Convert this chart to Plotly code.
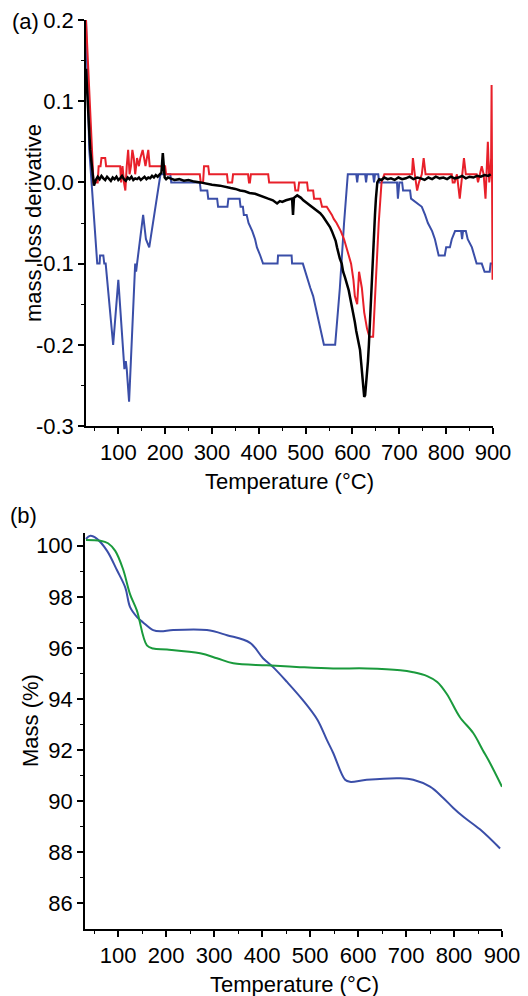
import plotly.graph_objects as go

# ---- panel (a): mass loss derivative ----
black_t = [31, 35, 40, 45, 48, 52, 56, 60, 64, 68, 72, 76, 80, 84, 88, 92, 96, 100,
           104, 108, 112, 116, 120, 124, 128, 132, 136, 140, 144, 148, 152, 156, 160,
           164, 168, 172, 176, 180, 184, 188, 192, 195, 197, 199, 202, 206, 211, 220,
           230, 240, 250, 262, 275, 288, 300, 317, 330, 340, 350, 360, 370, 380, 392,
           403, 412, 420, 430, 439, 445, 450, 458, 465, 471, 473, 475, 482, 490, 495,
           502, 509, 515, 520, 526, 531, 537, 542, 547, 552, 556, 560, 564, 567, 570,
           573, 577, 580, 584, 588, 592, 595, 598, 601, 605, 608, 612, 616, 619, 622,
           625, 627, 629, 631, 633, 635, 638, 640, 642, 644, 646, 648, 650, 653, 657,
           662, 668, 675, 682, 690, 698, 706, 714, 722, 730, 738, 746, 754, 762, 770,
           778, 786, 794, 802, 810, 818, 826, 834, 842, 850, 858, 866, 874, 882, 890,
           895]
black_v = [0.14, 0.09, 0.04, 0.012, -0.004, 0.003, 0.007, 0.004, 0.008, 0.005, 0.003,
           0.007, 0.005, 0.002, 0.006, 0.004, 0.007, 0.003, 0.005, 0.008, 0.004, 0.002,
           0.006, 0.004, 0.007, 0.003, 0.005, 0.004, 0.006, 0.003, 0.005, 0.007, 0.004,
           0.006, 0.005, 0.008, 0.006, 0.009, 0.007, 0.010, 0.012, 0.036, 0.016, 0.006,
           0.004, 0.006, 0.005, 0.003, 0.004, 0.002, 0.003, 0.001, 0.0, -0.002, -0.003,
           -0.004, -0.006, -0.007, -0.008, -0.010, -0.011, -0.013, -0.014, -0.016,
           -0.018, -0.020, -0.022, -0.026, -0.023, -0.024, -0.022, -0.021, -0.020,
           -0.040, -0.019, -0.016, -0.019, -0.022, -0.025, -0.028, -0.031, -0.033,
           -0.036, -0.038, -0.042, -0.046, -0.050, -0.055, -0.060, -0.066, -0.072,
           -0.080, -0.088, -0.094, -0.100, -0.110, -0.117, -0.124, -0.133, -0.142,
           -0.150, -0.161, -0.172, -0.183, -0.195, -0.206, -0.225, -0.245, -0.264,
           -0.262, -0.250, -0.235, -0.220, -0.200, -0.160, -0.130, -0.100, -0.080,
           -0.060, -0.040, -0.020, 0.0, 0.004, 0.003, 0.006, 0.004, 0.005, 0.003,
           0.006, 0.004, 0.005, 0.007, 0.004, 0.006, 0.005, 0.003, 0.006, 0.004, 0.007,
           0.005, 0.006, 0.004, 0.007, 0.005, 0.006, 0.008, 0.005, 0.007, 0.006, 0.008,
           0.007, 0.009, 0.008, 0.010, 0.009]

red_t = [31, 40, 47, 56, 58, 62, 64, 72, 74, 94, 96, 104, 106, 109, 112, 115, 118,
         121, 124, 127, 130, 133, 136, 140, 144, 147, 152, 158, 164, 167, 200, 202,
         274, 276, 281, 283, 286, 292, 294, 332, 334, 343, 345, 377, 379, 381, 383,
         420, 422, 476, 478, 484, 486, 503, 505, 516, 518, 522, 531, 535, 545, 556,
         560, 566, 575, 582, 590, 597, 602, 605, 610, 614, 620, 625, 631, 636, 644,
         650, 656, 662, 668, 727, 729, 733, 738, 742, 748, 752, 756, 812, 814, 818,
         823, 829, 834, 838, 842, 865, 868, 872, 876, 880, 884, 889, 892, 894, 896,
         897, 898, 898.5, 899]
red_v = [0.2, 0.09, 0.0, 0.0, 0.02, 0.02, 0.03, 0.03, 0.02, 0.02, 0.02, 0.02, 0.0,
         0.02, 0.0, -0.01, 0.02, 0.04, 0.01, 0.02, 0.04, 0.03, 0.01, 0.03, 0.02, 0.03,
         0.04, 0.02, 0.04, 0.02, 0.02, 0.01, 0.01, 0.0, 0.0, 0.02, 0.02, 0.02, 0.01,
         0.01, 0.0, 0.0, 0.01, 0.01, 0.0, 0.0, 0.01, 0.01, 0.0, 0.0, -0.01, -0.01, 0.0,
         0.0, -0.01, -0.01, -0.02, -0.02, -0.02, -0.03, -0.03, -0.04, -0.045, -0.05,
         -0.06, -0.07, -0.085, -0.1, -0.12, -0.14, -0.15, -0.11, -0.13, -0.16, -0.18,
         -0.19, -0.19, -0.11, -0.05, 0.0, 0.01, 0.01, 0.03, 0.01, -0.01, 0.0, 0.01, 0.03,
         0.01, 0.01, 0.0, 0.0, 0.01, -0.02, 0.01, 0.03, 0.01, 0.01, 0.0, 0.01, 0.02,
         0.01, -0.02, 0.05, 0.0, 0.01, 0.03, 0.12, -0.05, 0.09, -0.12]

blue_t = [31, 38, 55, 60, 61, 68, 70, 73, 89, 100, 113, 116, 118, 123, 136, 138, 140,
          153, 159, 166, 190, 211, 213, 274, 276, 290, 292, 311, 313, 333, 335, 359,
          361, 366, 368, 374, 378, 386, 392, 396, 403, 409, 440, 441, 470, 471, 494,
          499, 505, 510, 516, 520, 524, 528, 531, 535, 539, 563, 566, 573, 582, 590,
          608, 610, 612, 627, 629, 631, 644, 646, 648, 655, 657, 695, 697, 700, 702,
          706, 708, 723, 725, 748, 755, 761, 770, 776, 784, 797, 800, 808, 812, 819,
          825, 832, 834, 836, 842, 846, 855, 865, 876, 882, 893, 895, 898]
blue_v = [0.2, 0.04, -0.1, -0.1, -0.09, -0.09, -0.1, -0.1, -0.2, -0.12, -0.23, -0.22,
          -0.23, -0.27, -0.1, -0.11, -0.1, -0.04, -0.07, -0.08, 0.01, 0.01, 0.0, 0.0,
          -0.01, -0.01, -0.02, -0.02, -0.03, -0.03, -0.02, -0.02, -0.03, -0.03, -0.04,
          -0.04, -0.05, -0.06, -0.07, -0.08, -0.09, -0.1, -0.1, -0.09, -0.09, -0.1,
          -0.1, -0.11, -0.12, -0.13, -0.14, -0.15, -0.16, -0.17, -0.18, -0.19, -0.2,
          -0.2, -0.18, -0.13, -0.05, 0.01, 0.01, 0.0, 0.01, 0.01, 0.0, 0.01, 0.01, 0.0,
          0.01, 0.01, 0.0, 0.0, -0.02, 0.0, 0.0, 0.0, -0.01, -0.01, -0.02, -0.03,
          -0.04, -0.05, -0.06, -0.07, -0.09, -0.09, -0.08, -0.08, -0.07, -0.06, -0.06,
          -0.06, -0.07, -0.06, -0.06, -0.07, -0.08, -0.1, -0.1, -0.11, -0.11, -0.1, -0.1]

# ---- panel (b): mass ----
blue_m_t = [33, 42, 56, 77, 98, 115, 125, 140, 152, 173, 188, 215, 285, 327, 375,
            402, 423, 452, 485, 515, 535, 548, 573, 583, 618, 688, 715, 750, 777, 798,
            819, 854, 896]
blue_m = [100.27, 100.39, 100.27, 99.8, 99.03, 98.36, 97.6, 97.2, 97.0, 96.7, 96.65,
          96.7, 96.7, 96.5, 96.2, 95.6, 95.25, 94.67, 93.96, 93.2, 92.4, 91.9, 90.84,
          90.76, 90.84, 90.9, 90.84, 90.57, 90.14, 89.75, 89.4, 88.9, 88.15]

green_m_t = [33, 63, 79, 94, 110, 125, 139, 160, 173, 202, 271, 306, 340, 410, 479,
             548, 619, 688, 715, 744, 765, 785, 812, 840, 860, 875, 900]
green_m = [100.23, 100.2, 100.1, 99.8, 99.1, 98.1, 97.47, 96.1, 95.98, 95.94, 95.79,
           95.6, 95.4, 95.32, 95.25, 95.2, 95.2, 95.13, 95.05, 94.9, 94.67, 94.2, 93.3,
           92.67, 92.0, 91.5, 90.57]

x_ticks = [100, 200, 300, 400, 500, 600, 700, 800, 900]
ya_ticks = [-0.3, -0.2, -0.1, 0.0, 0.1, 0.2]
ya_labels = ['-0.3', '-0.2', '-0.1', '0.0', '0.1', '0.2']
yb_ticks = [86, 88, 90, 92, 94, 96, 98, 100]

RED = '#e8202a'
BLUE = '#3a4ea8'
GREEN = '#1a9a3c'
FONT = 'Liberation Sans, Arial, sans-serif'
FS = 22

# page body has an 8px margin, so the figure is drawn 8px in from the corner
OFF = 8
W, H = 528 - OFF, 996 - OFF


def px(x):
    return (x - OFF) / W


def py(y):
    return 1 - (y - OFF) / H


fig = go.Figure()
fig.add_trace(go.Scatter(x=blue_t, y=blue_v, mode='lines', line=dict(color=BLUE, width=2),
                         xaxis='x', yaxis='y', showlegend=False))
fig.add_trace(go.Scatter(x=red_t, y=red_v, mode='lines', line=dict(color=RED, width=2),
                         xaxis='x', yaxis='y', showlegend=False))
fig.add_trace(go.Scatter(x=black_t, y=black_v, mode='lines', line=dict(color='black', width=2.5),
                         xaxis='x', yaxis='y', showlegend=False))
fig.add_trace(go.Scatter(x=blue_m_t, y=blue_m, mode='lines', line=dict(color=BLUE, width=2, shape='spline'),
                         xaxis='x2', yaxis='y2', showlegend=False))
fig.add_trace(go.Scatter(x=green_m_t, y=green_m, mode='lines', line=dict(color=GREEN, width=2, shape='spline'),
                         xaxis='x2', yaxis='y2', showlegend=False))


def axis(**kw):
    d = dict(showline=True, linecolor='black', linewidth=1.5, mirror=False,
             ticks='outside', ticklen=6, tickwidth=1.5, tickcolor='black',
             showgrid=False, zeroline=False, automargin=False,
             ticklabeloverflow='allow',
             tickfont=dict(family=FONT, size=FS, color='black'))
    d.update(kw)
    return d


minor_x = dict(ticks='outside', ticklen=3, tickwidth=1.2, tickcolor='black',
               tickvals=[50, 150, 250, 350, 450, 550, 650, 750, 850])


def label(text, x, y, angle=0):
    return dict(text=text, x=px(x), y=py(y), xref='paper', yref='paper',
                xanchor='center', yanchor='middle', textangle=angle,
                showarrow=False, font=dict(size=FS))


fig.update_layout(
    width=W, height=H,
    margin=dict(l=0, r=0, t=0, b=0),
    paper_bgcolor='white', plot_bgcolor='white',
    font=dict(family=FONT, size=FS, color='black'),
    xaxis=axis(domain=[px(86), px(493)], range=[31, 900], anchor='y',
               tickmode='array', tickvals=x_ticks, minor=minor_x),
    yaxis=axis(domain=[py(426), py(20)], range=[-0.3, 0.2], anchor='x',
               tickmode='array', tickvals=ya_ticks, ticktext=ya_labels,
               minor=dict(ticks='outside', ticklen=3, tickwidth=1.2, tickcolor='black',
                          tickvals=[-0.25, -0.15, -0.05, 0.05, 0.15])),
    xaxis2=axis(domain=[px(85), px(502)], range=[31, 900], anchor='y2',
                tickmode='array', tickvals=x_ticks, minor=minor_x),
    yaxis2=axis(domain=[py(929), py(533)], range=[85, 100.5], anchor='x2',
                tickmode='array', tickvals=yb_ticks,
                minor=dict(ticks='outside', ticklen=3, tickwidth=1.2, tickcolor='black',
                           tickvals=[87, 89, 91, 93, 95, 97, 99])),
    annotations=[
        label('(a)', 25, 21),
        label('(b)', 23, 516),
        label('mass loss derivative', 33, 223, -90),
        label('Temperature (°C)', 289, 481),
        label('Mass (%)', 30, 721, -90),
        label('Temperature (°C)', 294, 984),
    ],
)

fig.write_html("out.html")
